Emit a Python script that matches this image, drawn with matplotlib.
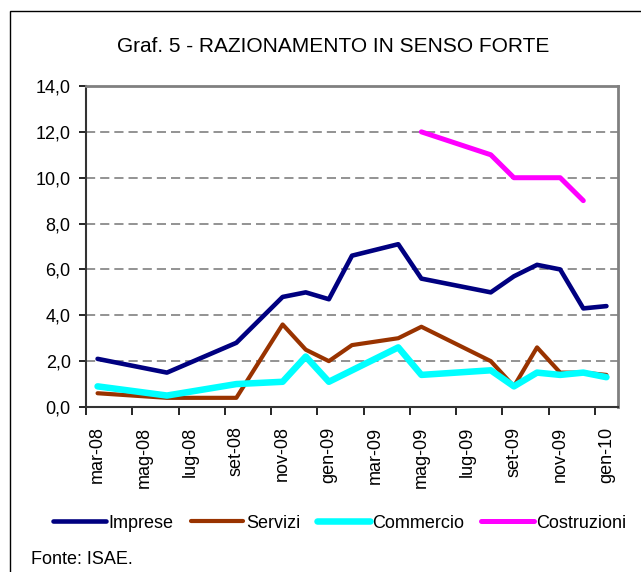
import numpy as np
import matplotlib
matplotlib.use("Agg")
import matplotlib.pyplot as plt
from matplotlib.patches import Rectangle

plt.rcParams['font.family'] = ['Liberation Sans', 'DejaVu Sans']

# monthly categories, mar-08 .. gen-10
months = ['mar-08', 'apr-08', 'mag-08', 'giu-08', 'lug-08', 'ago-08', 'set-08',
          'ott-08', 'nov-08', 'dic-08', 'gen-09', 'feb-09', 'mar-09', 'apr-09',
          'mag-09', 'giu-09', 'lug-09', 'ago-09', 'set-09', 'ott-09', 'nov-09',
          'dic-09', 'gen-10']

N = None
imprese = [2.1, N, N, 1.5, N, N, 2.8, N, 4.8, 5.0, 4.7, 6.6, N, 7.1,
           5.6, N, N, 5.0, 5.7, 6.2, 6.0, 4.3, 4.4]
servizi = [0.6, N, N, 0.4, N, N, 0.4, N, 3.6, 2.5, 2.0, 2.7, N, 3.0,
           3.5, N, N, 2.0, 0.9, 2.6, 1.5, 1.5, 1.4]
commercio = [0.9, N, N, 0.5, N, N, 1.0, N, 1.1, 2.2, 1.1, N, N, 2.6,
             1.4, N, N, 1.6, 0.9, 1.5, 1.4, 1.5, 1.3]
costruzioni = [N, N, N, N, N, N, N, N, N, N, N, N, N, N,
               12.0, N, N, 11.0, 10.0, N, 10.0, 9.0, N]

series = [
    ("Imprese", imprese, "#000080", 3.3),
    ("Servizi", servizi, "#993300", 3.0),
    ("Commercio", commercio, "#00FFFF", 4.7),
    ("Costruzioni", costruzioni, "#FF00FF", 3.6),
]

fig = plt.figure(figsize=(6.41, 5.72), dpi=100)

# outer chart frame (cut off at right and bottom)
fig.patches.append(Rectangle((10 / 641, -0.05), 1.0, (572 - 11) / 572 + 0.05,
                             transform=fig.transFigure, fill=False,
                             edgecolor='black', linewidth=1.0))

ax = fig.add_axes([86 / 641, 165 / 572, 532 / 641, 321 / 572])

x = np.arange(len(months))
for name, vals, color, lw in series:
    y = np.array(vals, dtype=float)
    ok = np.isfinite(y)
    ax.plot(x[ok], y[ok], color=color, linewidth=lw, label=name,
            solid_joinstyle='round', solid_capstyle='round')

ax.set_xlim(-0.5, len(months) - 0.5)
ax.set_ylim(0, 14)

yt = np.arange(0, 15, 2)
ax.set_yticks(yt)
ax.set_yticklabels([f"{v:.1f}".replace('.', ',') for v in yt], fontsize=13)
ax.tick_params(axis='y', direction='out', length=5, width=1.2, pad=6)

ax.set_xticks(np.arange(-0.5, len(months) - 1, 2))
ax.set_xticklabels([])
ax.set_xticks(x[::2], minor=True)
ax.set_xticklabels(months[::2], minor=True, rotation=90, fontsize=13)
ax.tick_params(axis='x', which='major', direction='out', length=6, width=1.2)
ax.tick_params(axis='x', which='minor', length=0, pad=14)

for v in yt[1:-1]:
    ax.axhline(v, color='#808080', linewidth=1.2, linestyle=(0, (5.5, 3)), zorder=0)

for s in ['left', 'bottom']:
    ax.spines[s].set_color('#333333')
    ax.spines[s].set_linewidth(1.5)
for s in ['top', 'right']:
    ax.spines[s].set_color('#808080')
    ax.spines[s].set_linewidth(2)

fig.text(333 / 641, (572 - 47) / 572, "Graf. 5 - RAZIONAMENTO IN SENSO FORTE",
         fontsize=15, ha='center', va='center')

fig.legend(loc='center', bbox_to_anchor=(340 / 641, (572 - 523) / 572), ncol=4,
           frameon=False, fontsize=13, handlelength=2.9, handletextpad=0.15,
           columnspacing=0.95, borderaxespad=0)

fig.text(31 / 641, (572 - 559) / 572, "Fonte: ISAE.", fontsize=13,
         ha='left', va='center')

fig.savefig("out.png", dpi=100)
